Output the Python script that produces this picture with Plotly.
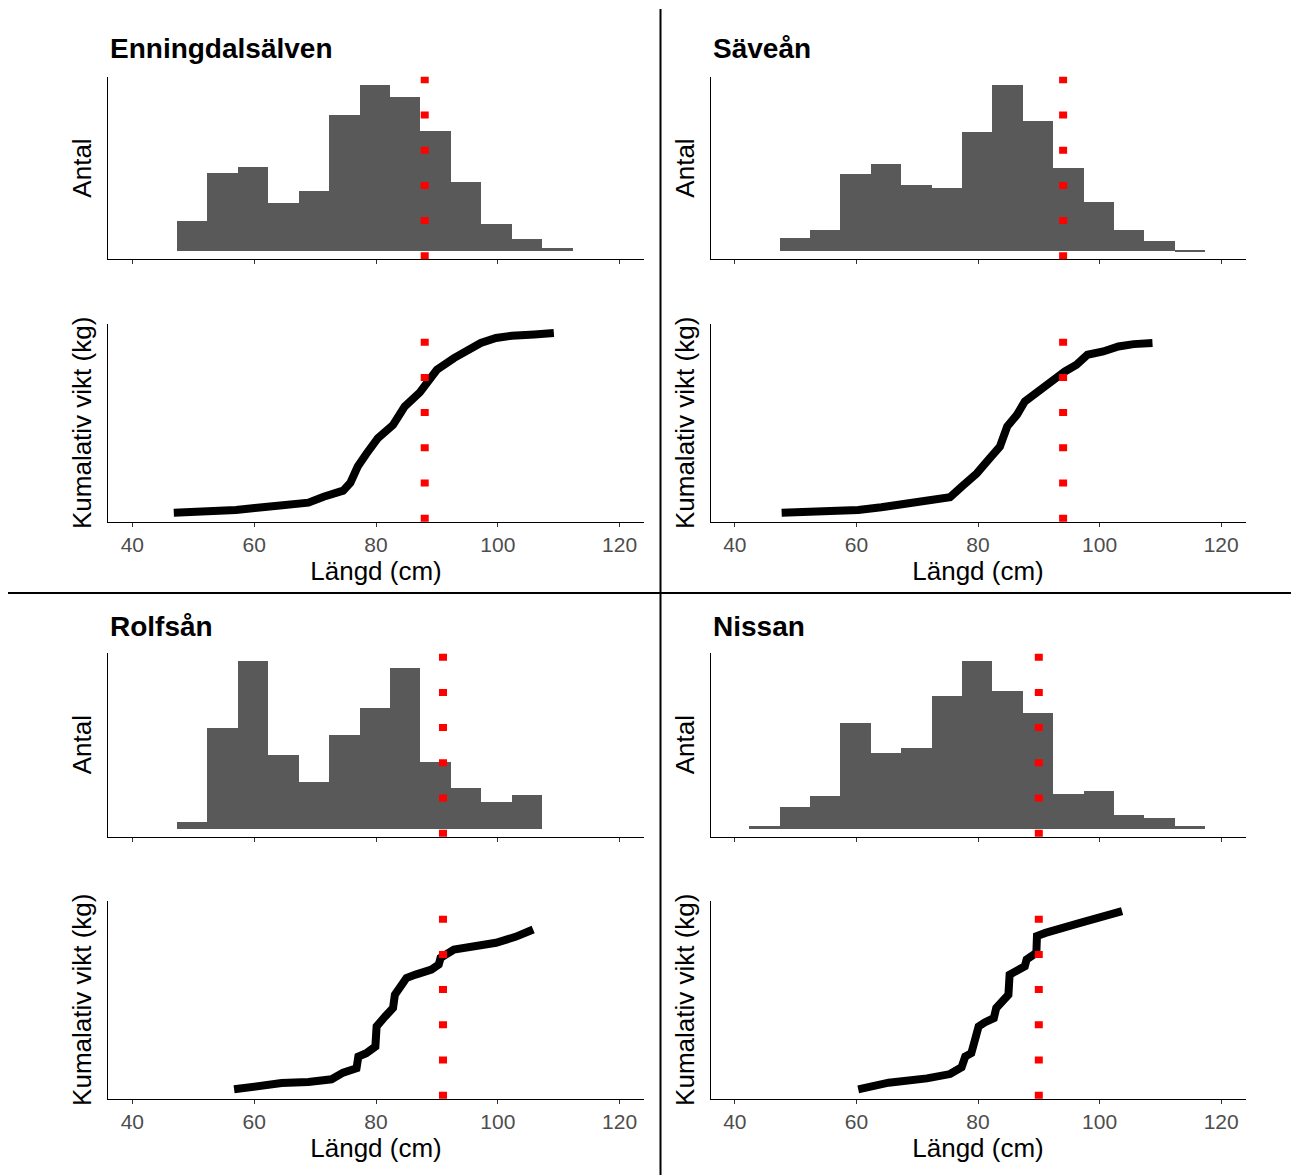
import plotly.graph_objects as go

# ---------------- data ----------------
rivers = ["Enningdalsälven", "Säveån", "Rolfsån", "Nissan"]
bin_width = 5

# histogram: first bin edge (cm) and counts per bin
enning_first_edge = 47.3
enning_counts = [10, 26, 28, 16, 20, 45, 55, 51, 40, 23, 9, 4, 1]
saevean_first_edge = 47.3
saevean_counts = [13, 21, 77, 87, 66, 63, 119, 165, 130, 83, 49, 21, 10, 1]
rolfsan_first_edge = 47.3
rolfsan_counts = [1, 15, 25, 11, 7, 14, 18, 24, 10, 6, 4, 5]
nissan_first_edge = 42.3
nissan_counts = [1, 8, 12, 39, 28, 30, 49, 62, 51, 43, 13, 14, 5, 4, 1]

# cumulative weight curves: length (cm) and cumulative weight (kg)
enning_len = [46.8, 51.3, 57.0, 60.1, 65.8, 68.9, 71.4, 74.6, 75.8, 77.0, 78.4, 80.3,
              82.8, 84.7, 87.2, 88.4, 90.0, 92.8, 94.7, 97.2, 99.7, 102.3, 106.0, 109.2]
enning_kg = [1, 5, 16, 27, 46, 57, 90, 124, 168, 258, 328, 416,
             490, 592, 671, 723, 797, 862, 899, 946, 974, 987, 994, 1002]

saevean_len = [47.7, 56.2, 60.3, 64.1, 67.9, 71.6, 75.4, 77.3, 79.8, 81.7, 83.6, 84.8,
               86.4, 87.7, 89.9, 91.8, 94.3, 96.2, 98.0, 100.6, 103.1, 105.6, 108.7]
saevean_kg = [1, 5, 16, 31, 49, 62, 87, 146, 220, 295, 369, 481,
              546, 620, 676, 732, 788, 825, 881, 899, 927, 940, 946]

rolfsan_len = [56.7, 60.8, 64.5, 68.9, 72.7, 74.6, 76.8, 77.1, 78.4, 79.9, 80.1, 81.5,
               82.8, 83.1, 84.0, 85.0, 86.5, 89.1, 90.3, 90.6, 92.8, 96.6, 99.7, 102.9, 105.8]
rolfsan_kg = [3, 25, 38, 44, 59, 96, 120, 185, 204, 241, 353, 408,
              455, 529, 576, 622, 641, 669, 697, 734, 780, 799, 818, 851, 892]

nissan_len = [60.3, 65.3, 71.6, 75.4, 77.3, 77.9, 78.9, 79.5, 80.1, 81.1, 82.6, 83.0,
              84.2, 85.0, 85.2, 86.1, 87.7, 88.0, 89.6, 89.7, 91.1, 96.8, 103.7]
nissan_kg = [3, 40, 64, 88, 126, 185, 204, 297, 353, 375, 399, 455,
             501, 529, 641, 659, 687, 725, 762, 855, 873, 929, 994]

# red reference line (cm)
ref_length = [88, 94, 91, 90]

x_ticks = [40, 60, 80, 100, 120]
x_range = [36, 124]

# ---------------- layout helpers ----------------
PAGE_OFF = 8                      # default body margin of the html page
W, H = 1299 - PAGE_OFF, 1175 - PAGE_OFF
FONT = "Liberation Sans, Arial, sans-serif"

col_px = [(108, 644), (710.5, 1245.5)]
row_px = {  # (top, bottom) in screen pixels
    (0, "hist"): (76.7, 259.3),
    (0, "cum"): (324.0, 521.7),
    (1, "hist"): (652.7, 836.7),
    (1, "cum"): (900.7, 1098.7),
}


def px(v):
    return (v - PAGE_OFF) / W


def py(v):
    return 1 - (v - PAGE_OFF) / H


def xdom(c):
    a, b = col_px[c]
    return [px(a), px(b)]


def ydom(r, kind):
    t, b = row_px[(r, kind)]
    return [py(b), py(t)]


hist_sets = [
    (enning_first_edge, enning_counts),
    (saevean_first_edge, saevean_counts),
    (rolfsan_first_edge, rolfsan_counts),
    (nissan_first_edge, nissan_counts),
]
cum_sets = [
    (enning_len, enning_kg),
    (saevean_len, saevean_kg),
    (rolfsan_len, rolfsan_kg),
    (nissan_len, nissan_kg),
]

all_kg = enning_kg + saevean_kg + rolfsan_kg + nissan_kg
kmin, kmax = min(all_kg), max(all_kg)
kpad = 0.05 * (kmax - kmin)
cum_range = [kmin - kpad, kmax + kpad]

fig = go.Figure()
layout = dict(
    width=W, height=H,
    margin=dict(l=0, r=0, t=0, b=0),
    paper_bgcolor="white", plot_bgcolor="white",
    showlegend=False,
    font=dict(family=FONT, color="black"),
    bargap=0,
)
annotations = []
shapes = []

axis_idx = 0
for p, river in enumerate(rivers):
    r, c = divmod(p, 2)
    first_edge, counts = hist_sets[p]
    lens, kgs = cum_sets[p]

    for kind in ("hist", "cum"):
        axis_idx += 1
        xa = "x" if axis_idx == 1 else f"x{axis_idx}"
        ya = "y" if axis_idx == 1 else f"y{axis_idx}"
        xkey = "xaxis" if axis_idx == 1 else f"xaxis{axis_idx}"
        ykey = "yaxis" if axis_idx == 1 else f"yaxis{axis_idx}"

        if kind == "hist":
            centres = [first_edge + bin_width * (i + 0.5) for i in range(len(counts))]
            fig.add_trace(go.Bar(
                x=centres, y=counts, width=bin_width,
                marker=dict(color="#595959", line=dict(width=0)),
                xaxis=xa, yaxis=ya, hoverinfo="x+y",
            ))
            m = max(counts)
            yr = [-0.05 * m, 1.05 * m]
            ytitle = "Antal"
        else:
            fig.add_trace(go.Scatter(
                x=lens, y=kgs, mode="lines",
                line=dict(color="black", width=8),
                xaxis=xa, yaxis=ya,
            ))
            yr = cum_range
            ytitle = "Kumalativ vikt (kg)"

        layout[xkey] = dict(
            domain=xdom(c), anchor=ya, range=x_range,
            tickmode="array", tickvals=x_ticks,
            showticklabels=(kind == "cum"),
            ticks="outside", ticklen=4, tickwidth=1.1, tickcolor="#333333",
            showline=True, linecolor="black", linewidth=1.2,
            showgrid=False, zeroline=False,
            tickfont=dict(size=21, color="#4D4D4D", family=FONT),
            title=dict(text="Längd (cm)" if kind == "cum" else "",
                       font=dict(size=26, color="black", family=FONT),
                       standoff=6),
        )
        layout[ykey] = dict(
            domain=ydom(r, kind), anchor=xa, range=yr,
            showticklabels=False, ticks="",
            showline=True, linecolor="black", linewidth=1.2,
            showgrid=False, zeroline=False,
            title=dict(text=ytitle, font=dict(size=26, color="black", family=FONT),
                       standoff=7),
        )

        shapes.append(dict(
            type="line", xref=xa, yref=f"{ya} domain",
            x0=ref_length[p], x1=ref_length[p], y0=0, y1=1,
            line=dict(color="#FF0000", width=8, dash="7px,28.2px"),
            layer="above",
        ))

    # panel title
    ty = 49 if r == 0 else 627
    annotations.append(dict(
        text=f"<b>{river}</b>", x=px(col_px[c][0]), y=py(ty),
        xref="paper", yref="paper",
        xanchor="left", yanchor="middle", showarrow=False,
        font=dict(size=28, color="black", family=FONT),
    ))

# dividing lines between the four panels
shapes.append(dict(type="line", xref="paper", yref="paper",
                   x0=px(660.5), x1=px(660.5), y0=0, y1=py(9),
                   line=dict(color="black", width=2)))
shapes.append(dict(type="line", xref="paper", yref="paper",
                   x0=0, x1=1, y0=py(593), y1=py(593),
                   line=dict(color="black", width=2)))

layout["annotations"] = annotations
layout["shapes"] = shapes
fig.update_layout(**layout)

fig.write_html("out.html")
